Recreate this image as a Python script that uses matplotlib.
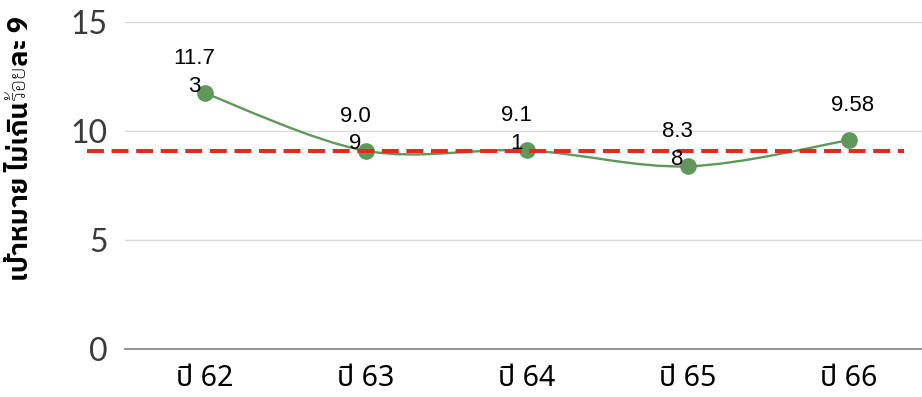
import numpy as np
import matplotlib
matplotlib.use("Agg")
import matplotlib.pyplot as plt
from matplotlib.path import Path
from matplotlib.patches import PathPatch

years = ['ปี 62', 'ปี 63', 'ปี 64', 'ปี 65', 'ปี 66']
rates = [11.73, 9.09, 9.11, 8.38, 9.58]
labels = ['11.7\n3', '9.0\n9', '9.1\n1', '8.3\n8', '9.58']
target = 9.08

green = '#5f985a'
red = '#e8281c'
thai = ['Noto Sans Thai', 'DejaVu Sans']

fig = plt.figure(figsize=(9.22, 3.97), dpi=100)
ax = fig.add_axes([124.5 / 922, 48 / 397, 805 / 922, 327 / 397])

x = np.arange(len(years))
y = np.array(rates)

# smoothed line like excel (catmull-rom -> bezier)
verts = [(x[0], y[0])]
codes = [Path.MOVETO]
for i in range(len(x) - 1):
    p0 = (x[max(i - 1, 0)], y[max(i - 1, 0)])
    p1 = (x[i], y[i])
    p2 = (x[i + 1], y[i + 1])
    p3 = (x[min(i + 2, len(x) - 1)], y[min(i + 2, len(x) - 1)])
    c1 = (p1[0] + (p2[0] - p0[0]) / 6, p1[1] + (p2[1] - p0[1]) / 6)
    c2 = (p2[0] - (p3[0] - p1[0]) / 6, p2[1] - (p3[1] - p1[1]) / 6)
    verts += [c1, c2, p2]
    codes += [Path.CURVE4] * 3
ax.add_patch(PathPatch(Path(verts, codes), facecolor='none', edgecolor=green, lw=1.7, zorder=3))
ax.plot(x, y, 'o', color=green, markersize=11, zorder=4)

# target line
ax.plot([-0.73, 4.34], [target, target], color=red, lw=2.9, dashes=(4.2, 1.9),
        clip_on=False, zorder=5)

for xi, yi, lab in zip(x, y, labels):
    dx = -11 if '\n' in lab else 4
    ax.annotate(lab, (xi, yi), xytext=(dx, 45), textcoords='offset pixels',
                ha='center', va='top', fontsize=16, linespacing=1.4,
                family=['Liberation Sans', 'DejaVu Sans'], color='black', zorder=6)

ax.set_xlim(-0.5, 4.5)
ax.set_ylim(0, 15)
ax.set_yticks([0, 5, 10, 15])
ax.set_xticks(x)
ax.set_xticklabels(years, family=thai, fontsize=20.5, color='black')
for t in ax.get_yticklabels():
    t.set_family(['Lato', 'DejaVu Sans'])
    t.set_fontweight('normal')
    t.set_fontsize(23)
    t.set_color('#3a3a3a')
ax.tick_params(axis='y', length=0, pad=12)
ax.tick_params(axis='x', length=0, pad=11)
ax.grid(axis='y', color='#d9d9d9', lw=1)
ax.set_axisbelow(True)
for s in ['top', 'right', 'left']:
    ax.spines[s].set_visible(False)
ax.spines['bottom'].set_color('#808080')
ax.spines['bottom'].set_linewidth(1.2)

# y label in three parts (bold / thin / bold)
parts = [('เป้าหมาย ไม่เกิน', ['IBM Plex Sans Thai', 'DejaVu Sans'], 'bold', 19.5),
         ('ร้อย', ['Sarabun', 'DejaVu Sans'], 'light', 16),
         ('ละ 9', ['IBM Plex Sans Thai', 'DejaVu Sans'], 'bold', 19.5)]
fig.canvas.draw()
r = fig.canvas.get_renderer()
ybot = (397 - 281) / 397
for txt, fam, w, fs in parts:
    t = fig.text(20 / 922, ybot, txt, rotation=90, ha='center', va='bottom',
                 family=fam, fontweight=w, fontsize=fs, color='black')
    bb = t.get_window_extent(r)
    ybot = bb.y1 / fig.bbox.height

fig.savefig("out.png", dpi=100)
